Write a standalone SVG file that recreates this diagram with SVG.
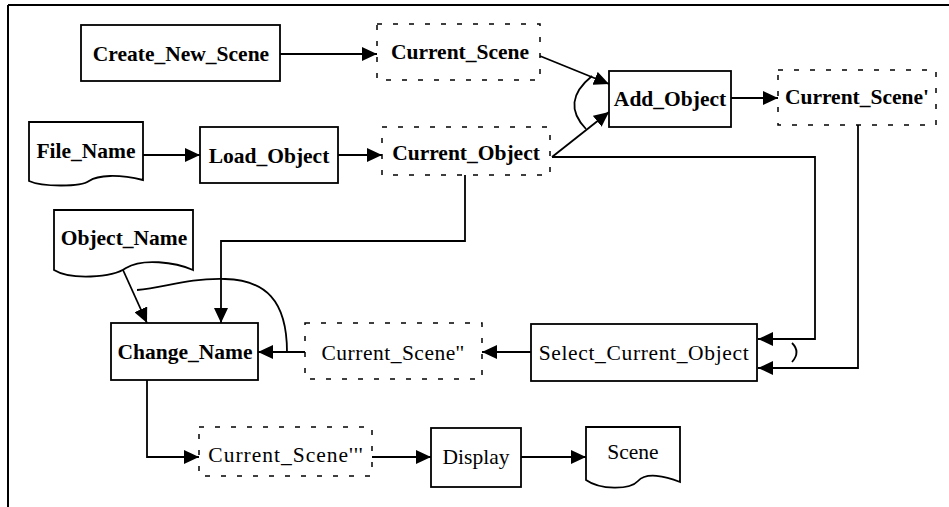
<svg xmlns="http://www.w3.org/2000/svg" width="949" height="507" viewBox="0 0 949 507">
<style>
.box{fill:#fff;stroke:#000;stroke-width:1.8}
.dash{fill:none;stroke:#000;stroke-width:1.5;stroke-dasharray:5 11}
.doc{fill:#fff;stroke:#000;stroke-width:1.8}
.lbl{font-family:"Liberation Serif","Times New Roman",serif;font-size:21.5px;font-weight:bold;text-anchor:middle;fill:#000}
.reg{font-weight:normal}
.con{fill:none;stroke:#000;stroke-width:1.8}
.con path.a{marker-end:url(#arr)}
</style>
<defs>
<marker id="arr" markerUnits="userSpaceOnUse" markerWidth="16" markerHeight="14" refX="15" refY="7" orient="auto">
<path d="M0,0 L15,7 L0,14 Z" fill="#000"/>
</marker>
</defs>
<rect width="949" height="507" fill="#fff"/>
<path d="M8,5 H949 M8,5 V507" fill="none" stroke="#000" stroke-width="2"/>

<g id="create_new_scene"><rect class="box" x="81" y="25" width="199" height="56"/><text class="lbl" x="181" y="61">Create_New_Scene</text></g>
<g id="current_scene"><rect class="dash" x="377" y="24" width="163" height="56"/><text class="lbl" x="460" y="59">Current_Scene</text></g>
<g id="add_object"><rect class="box" x="609" y="71" width="122" height="56"/><text class="lbl" x="670" y="106">Add_Object</text></g>
<g id="current_scene_1"><rect class="dash" x="778" y="70" width="158" height="55"/><text class="lbl" x="857" y="104">Current_Scene'</text></g>
<g id="file_name"><path class="doc" d="M29,122 H143 V180 C118,174 98,175 89,181 C81,187 42,187 29,181 Z"/><text class="lbl" x="86" y="158">File_Name</text></g>
<g id="load_object"><rect class="box" x="200" y="127" width="138" height="56"/><text class="lbl" x="269" y="163">Load_Object</text></g>
<g id="current_object"><rect class="dash" x="382" y="127" width="168" height="48"/><text class="lbl" x="466" y="160">Current_Object</text></g>
<g id="object_name"><path class="doc" d="M54,210 H193 V270 C175,262 142,258 126,268 C112,278 70,280 54,270 Z"/><text class="lbl" x="124" y="245">Object_Name</text></g>
<g id="change_name"><rect class="box" x="111" y="323" width="147" height="57"/><text class="lbl" x="185" y="359">Change_Name</text></g>
<g id="current_scene_2"><rect class="dash" x="305" y="323" width="177" height="56"/><text class="lbl reg" x="393" y="360" letter-spacing="0.5">Current_Scene''</text></g>
<g id="select_current_object"><rect class="box" x="531" y="324" width="226" height="57"/><text class="lbl reg" x="644" y="360" letter-spacing="0.65">Select_Current_Object</text></g>
<g id="current_scene_3"><rect class="dash" x="199" y="427" width="173" height="49"/><text class="lbl reg" x="286" y="462" letter-spacing="1">Current_Scene'''</text></g>
<g id="display"><rect class="box" x="431" y="428" width="90" height="59"/><text class="lbl reg" x="476" y="464">Display</text></g>
<g id="scene"><path class="doc" d="M586,427 H680 V482 C665,476 646,472 638,481 C630,490 600,490 586,480 Z"/><text class="lbl reg" x="633" y="459">Scene</text></g>

<g id="connectors" class="con">
<path class="a" d="M280,54 H377"/>
<path class="a" d="M143,155 H200"/>
<path class="a" d="M338,155 H382"/>
<path class="a" d="M540,56 L609,84"/>
<path class="a" d="M552,157 L609,112"/>
<path d="M592,76 Q560,102 586,129"/>
<path class="a" d="M731,98 H778"/>
<path class="a" d="M552,157 H815 V339 H758"/>
<path class="a" d="M858,125 V368 H758"/>
<path d="M792,343 Q801,352 792,362"/>
<path class="a" d="M531,352 H482"/>
<path class="a" d="M305,352 H258"/>
<path d="M287,352 C287,300 265,280 225,279 C185,278 165,288 137,290"/>
<path class="a" d="M123,270 L147,323"/>
<path class="a" d="M465,175 V241 H221 V323"/>
<path class="a" d="M147,380 V457 H199"/>
<path class="a" d="M372,457 H431"/>
<path class="a" d="M521,457 H586"/>
</g>
</svg>
